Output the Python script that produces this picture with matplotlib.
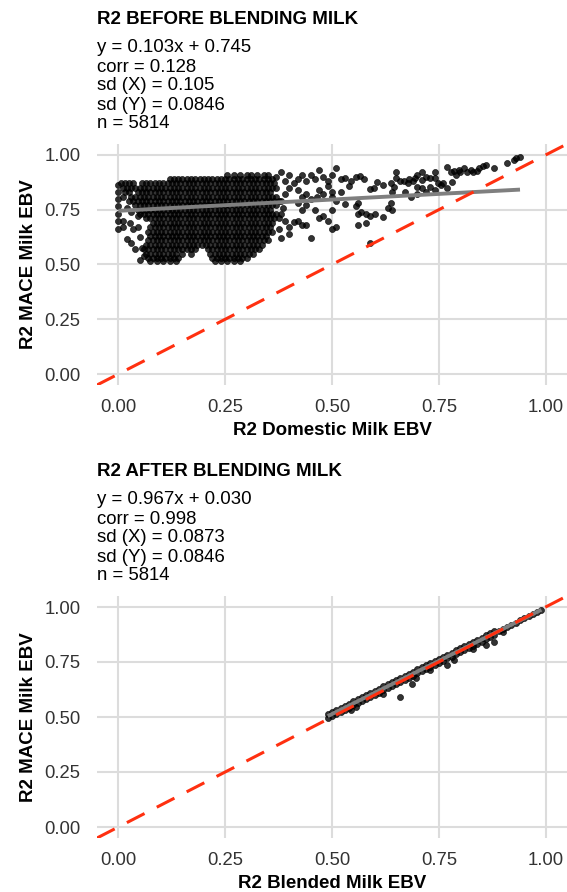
import matplotlib.pyplot as plt
import numpy as np

plt.rcParams['font.family'] = ['Liberation Sans', 'DejaVu Sans']

W, H = 567, 892

# ---------------- before blending ----------------
title_before = 'R2 BEFORE BLENDING MILK'
stats_before = ['y = 0.103x + 0.745', 'corr = 0.128', 'sd (X) = 0.105',
                'sd (Y) = 0.0846', 'n = 5814']
fit_before = (0.103, 0.745)
xlabel_before = 'R2 Domestic Milk EBV'

# the solid core of the cloud, x values (in hundredths) for each y level
core_rows_before = [
    (0.91, "25.5 27 28.5 30 31 32.5 34 35"),
    (0.89, "12 13 14 15 16 17 18 19 20 21 22 23 24 25 26 27 28 29 30 31 32 33 34 35 36"),
    (0.87, "0.5 1.5 2.5 3.5 5.5 6.5 7.5 8.5 9.5 10.5 11.5 12.5 13.5 14.5 15.5 16.5 17.5 18.5 19.5 20.5 "
           "21.5 22.5 23.5 24.5 25.5 26.5 27.5 28.5 29.5 30.5 31.5 32.5 33.5 34.5 35.5 36.5"),
    (0.85, "1 2 3 4 5 6 7 8 9 10 11 12 13 14 15 16 17 18 19 20 21 22 23 24 25 26 27 28 29 30 31 32 33 "
           "34 35 36 37"),
    (0.83, "1.5 2.5 4.5 5.5 6.5 7.5 8.5 9.5 10.5 11.5 12.5 13.5 14.5 15.5 16.5 17.5 18.5 19.5 20.5 21.5 "
           "22.5 23.5 24.5 25.5 26.5 27.5 28.5 29.5 30.5 31.5 32.5 33.5 34.5 35.5"),
    (0.81, "1 3 4 5 6 7 8 9 10 11 12 13 14 15 16 17 18 19 20 21 22 23 24 25 26 27 28 29 30 31 32 33 34 "
           "35 36 37"),
    (0.79, "2.5 3.5 4.5 5.5 6.5 7.5 8.5 9.5 10.5 11.5 12.5 13.5 14.5 15.5 16.5 17.5 18.5 19.5 20.5 21.5 "
           "22.5 23.5 24.5 25.5 26.5 27.5 28.5 29.5 30.5 31.5 32.5 33.5 34.5 35.5 36.5 37.5"),
    (0.77, "4 5 6 7 8 9 10 11 12 13 14 15 16 17 18 19 20 21 22 23 24 25 26 27 28 29 30 31 32 33 34 "
           "35 36 37"),
    (0.75, "4.5 5.5 6.5 7.5 8.5 9.5 10.5 11.5 12.5 13.5 14.5 15.5 16.5 17.5 18.5 19.5 20.5 21.5 22.5 "
           "23.5 24.5 25.5 26.5 27.5 28.5 29.5 30.5 31.5 32.5 33.5 34.5 35.5"),
    (0.73, "5 6 7 8 9 10 11 12 13 14 15 16 17 18 19 20 21 22 23 24 25 26 27 28 29 30 31 32 33 34 35 36 37"),
    (0.71, "6.5 7.5 8.5 9.5 10.5 11.5 12.5 13.5 14.5 15.5 16.5 17.5 18.5 19.5 20.5 21.5 22.5 23.5 24.5 "
           "25.5 26.5 27.5 28.5 29.5 30.5 31.5 32.5 33.5 34.5 35.5 36.5 37.5"),
    (0.69, "8 9 10 11 12 13 14 15 16 17 18 19 20 21 22 23 24 25 26 27 28 29 30 31 32 33 34 35 36"),
    (0.67, "7.5 8.5 9.5 10.5 11.5 12.5 13.5 14.5 15.5 16.5 17.5 18.5 19.5 20.5 21.5 22.5 23.5 24.5 25.5 "
           "26.5 27.5 28.5 29.5 30.5 31.5 32.5 33.5 34.5 35.5"),
    (0.65, "7 8 9 10 11 12 13 14 15 16 17 18 19 20 21 22 23 24 25 26 27 28 29 30 31 32 33 34 35 36"),
    (0.63, "7.5 8.5 9.5 10.5 11.5 12.5 13.5 14.5 15.5 16.5 17.5 18.5 19.5 20.5 21.5 22.5 23.5 24.5 25.5 "
           "26.5 27.5 28.5 29.5 30.5 31.5 32.5 33.5 34.5"),
    (0.61, "7 8 9 10 11 12 13 14 15 16 17 18 19 20 21 22 23 24 25 26 27 28 29 30 31 32 33 34 35"),
    (0.59, "6.5 7.5 8.5 9.5 10.5 11.5 12.5 13.5 14.5 15.5 16.5 17.5 18.5 19.5 20.5 21.5 22.5 23.5 24.5 "
           "25.5 26.5 27.5 28.5 29.5 30.5 31.5 32.5 33.5"),
    (0.57, "6 7 8 9 10 11 12 13 14 15 16 17 18 21 22 23 24 25 26 27 28 29 30 31 32 33"),
    (0.55, "6.5 7.5 8.5 9.5 10.5 11.5 12.5 13.5 15 17 21.5 22.5 23.5 24.5 25.5 26.5 27.5 28.5 29.5 30.5 31.5"),
    (0.53, "7 8 9 10 11 12 13 14 22 23 24 25 26 27 28 29 30"),
    (0.515, "7.5 9 10.5 12 13.5 22.5 24 25.5 27 28.5"),
]

# scattered points around the core
sparse_before = [
    (0.00, 0.865), (0.00, 0.83), (0.00, 0.80), (0.00, 0.767), (0.00, 0.73), (0.00, 0.70),
    (0.00, 0.66), (0.01, 0.67), (0.01, 0.70), (0.02, 0.615), (0.027, 0.69), (0.03, 0.60),
    (0.035, 0.66), (0.04, 0.57), (0.05, 0.52), (0.045, 0.67), (0.055, 0.575), (0.05, 0.625),
    (0.045, 0.72), (0.03, 0.74), (0.06, 0.54), (0.02, 0.76),
    (0.37, 0.90), (0.38, 0.92), (0.38, 0.79), (0.38, 0.73), (0.375, 0.66), (0.38, 0.62),
    (0.385, 0.76), (0.39, 0.88), (0.39, 0.82), (0.39, 0.70), (0.40, 0.91), (0.40, 0.85),
    (0.40, 0.67), (0.40, 0.64), (0.41, 0.87), (0.41, 0.695), (0.42, 0.89), (0.42, 0.84),
    (0.42, 0.78), (0.42, 0.70), (0.43, 0.91), (0.43, 0.81), (0.43, 0.75), (0.43, 0.68),
    (0.44, 0.88), (0.44, 0.82), (0.44, 0.77), (0.44, 0.68), (0.45, 0.91), (0.45, 0.80),
    (0.45, 0.62), (0.46, 0.89), (0.465, 0.81), (0.46, 0.75), (0.47, 0.93), (0.47, 0.84),
    (0.47, 0.71), (0.48, 0.90), (0.48, 0.82), (0.48, 0.72), (0.49, 0.88), (0.49, 0.86),
    (0.49, 0.70), (0.50, 0.91), (0.50, 0.83), (0.50, 0.81), (0.50, 0.75), (0.50, 0.66),
    (0.51, 0.94), (0.51, 0.79), (0.51, 0.67), (0.52, 0.89), (0.52, 0.83), (0.53, 0.895),
    (0.53, 0.775), (0.54, 0.86), (0.545, 0.88), (0.555, 0.90), (0.555, 0.765),
    (0.56, 0.78), (0.56, 0.73), (0.56, 0.68), (0.565, 0.905), (0.567, 0.74), (0.575, 0.89),
    (0.58, 0.73), (0.58, 0.69), (0.59, 0.845), (0.59, 0.72), (0.59, 0.60), (0.598, 0.85),
    (0.60, 0.73), (0.606, 0.875), (0.62, 0.865), (0.62, 0.715), (0.63, 0.76), (0.637, 0.87),
    (0.637, 0.78), (0.64, 0.83), (0.64, 0.75), (0.645, 0.855), (0.65, 0.92), (0.65, 0.895),
    (0.66, 0.88), (0.668, 0.88), (0.67, 0.83), (0.677, 0.87), (0.68, 0.89), (0.685, 0.81),
    (0.69, 0.88), (0.695, 0.895), (0.70, 0.91), (0.70, 0.855), (0.70, 0.82),
    (0.71, 0.92), (0.71, 0.85), (0.71, 0.885), (0.72, 0.90), (0.72, 0.83), (0.73, 0.855),
    (0.73, 0.895), (0.74, 0.92), (0.74, 0.895), (0.74, 0.84), (0.747, 0.87), (0.755, 0.865),
    (0.76, 0.87), (0.77, 0.945), (0.77, 0.85), (0.778, 0.92), (0.78, 0.875), (0.785, 0.925),
    (0.79, 0.91), (0.797, 0.93), (0.80, 0.92), (0.81, 0.94), (0.817, 0.92), (0.825, 0.93),
    (0.83, 0.92), (0.84, 0.925), (0.845, 0.94), (0.853, 0.95), (0.86, 0.955), (0.88, 0.94),
    (0.91, 0.965), (0.925, 0.975), (0.93, 0.985), (0.94, 0.99),
]

# ---------------- after blending ----------------
title_after = 'R2 AFTER BLENDING MILK'
stats_after = ['y = 0.967x + 0.030', 'corr = 0.998', 'sd (X) = 0.0873',
               'sd (Y) = 0.0846', 'n = 5814']
fit_after = (0.967, 0.030)
xlabel_after = 'R2 Blended Milk EBV'

band_x = [0.49, 0.50, 0.51, 0.52, 0.53, 0.54, 0.55, 0.56, 0.57, 0.58, 0.59, 0.60, 0.61, 0.62,
          0.63, 0.64, 0.65, 0.66, 0.67, 0.68, 0.69, 0.70, 0.71, 0.72, 0.73, 0.74, 0.75, 0.76,
          0.77, 0.78, 0.79, 0.80, 0.81, 0.82, 0.83, 0.84, 0.85, 0.86, 0.87, 0.88]
band_upper = [0.513, 0.523, 0.532, 0.542, 0.552, 0.561, 0.571, 0.581, 0.590, 0.600, 0.610,
              0.619, 0.629, 0.639, 0.648, 0.658, 0.668, 0.677, 0.687, 0.697, 0.706, 0.716,
              0.726, 0.735, 0.745, 0.755, 0.764, 0.774, 0.784, 0.793, 0.803, 0.813, 0.822,
              0.832, 0.842, 0.851, 0.861, 0.871, 0.880, 0.890]
band_lower = [0.495, 0.505, 0.514, 0.524, 0.534, 0.543, 0.553, 0.563, 0.572, 0.582, 0.592,
              0.601, 0.611, 0.621, 0.630, 0.640, 0.650, 0.659, 0.669, 0.679, 0.688, 0.698,
              0.708, 0.717, 0.727, 0.737, 0.746, 0.756, 0.766, 0.775, 0.785, 0.795, 0.804,
              0.814, 0.824, 0.833, 0.843, 0.853, 0.862, 0.872]
tail_after = [(0.89, 0.891), (0.90, 0.900), (0.91, 0.910), (0.92, 0.920), (0.93, 0.929),
              (0.94, 0.939), (0.95, 0.949), (0.96, 0.958), (0.97, 0.968), (0.98, 0.978),
              (0.99, 0.987)]
outliers_after = [(0.66, 0.59), (0.688, 0.65), (0.696, 0.677), (0.77, 0.736), (0.786, 0.759),
                  (0.86, 0.827), (0.879, 0.841), (0.545, 0.53), (0.62, 0.605), (0.73, 0.715),
                  (0.83, 0.81), (0.90, 0.885), (0.555, 0.545)]

ticks = [0.0, 0.25, 0.5, 0.75, 1.0]


def core_points(rows):
    xs, ys = [], []
    for y, row in rows:
        for v in row.split():
            xs.append(float(v) / 100)
            ys.append(y)
    return xs, ys


def fx(px):
    return px / W


def fy(py):
    return 1 - py / H


def draw_panel(ax, x, y, fit, xlabel, title, stats, top_px, bottom_px):
    x = np.array(x)
    y = np.array(y)
    ax.scatter(x, y, s=19, facecolor='black', edgecolor='black', alpha=0.8,
               linewidths=0.5, zorder=2)
    xl = np.array([x.min(), x.max()])
    ax.plot(xl, fit[0] * xl + fit[1], color='#7f7f7f', lw=2.8, zorder=3,
            solid_capstyle='butt')
    ax.axline((0, 0), slope=1, color='#ff3010', lw=2.2, ls=(0, (6.5, 4.5)), zorder=4)
    ax.set_xlim(-0.05, 1.05)
    ax.set_ylim(-0.05, 1.05)
    ax.set_xticks(ticks)
    ax.set_yticks(ticks)
    ax.set_xticklabels(['%.2f' % t for t in ticks])
    ax.set_yticklabels(['%.2f' % t for t in ticks])
    ax.tick_params(length=0, labelsize=13.3, colors='#333333')
    ax.tick_params(axis='x', pad=10)
    ax.tick_params(axis='y', pad=12)
    for s in ax.spines.values():
        s.set_visible(False)
    ax.grid(True, color='#dcdcdc', lw=1.5)
    ax.set_axisbelow(True)

    fig.text(fx(97), fy(top_px - 120), title, fontsize=13.5, fontweight='bold',
             ha='left', va='baseline')
    for i, line in enumerate(stats):
        fig.text(fx(97), fy(top_px - 91.5 + 19 * i), line, fontsize=13.4,
                 ha='left', va='baseline')
    fig.text(fx(332), fy(bottom_px + 50), xlabel, fontsize=13.5, fontweight='bold',
             ha='center', va='baseline')
    fig.text(fx(28.5), fy((top_px + bottom_px) / 2), 'R2 MACE Milk EBV', fontsize=13.5,
             fontweight='bold', rotation=90, ha='center', va='center')


fig = plt.figure(figsize=(W / 100, H / 100), dpi=100)

ax1 = fig.add_axes([fx(97), fy(385), (567 - 97) / W, (385 - 144) / H])
cx, cy = core_points(core_rows_before)
bx = cx + [p[0] for p in sparse_before]
by = cy + [p[1] for p in sparse_before]
draw_panel(ax1, bx, by, fit_before, xlabel_before, title_before, stats_before, 144, 385)

ax2 = fig.add_axes([fx(97), fy(838), (567 - 97) / W, (838 - 596) / H])
ax_ = band_x + band_x + [p[0] for p in tail_after] + [p[0] for p in outliers_after]
ay_ = band_upper + band_lower + [p[1] for p in tail_after] + [p[1] for p in outliers_after]
draw_panel(ax2, ax_, ay_, fit_after, xlabel_after, title_after, stats_after, 596, 838)

fig.savefig('out.png', dpi=100)
